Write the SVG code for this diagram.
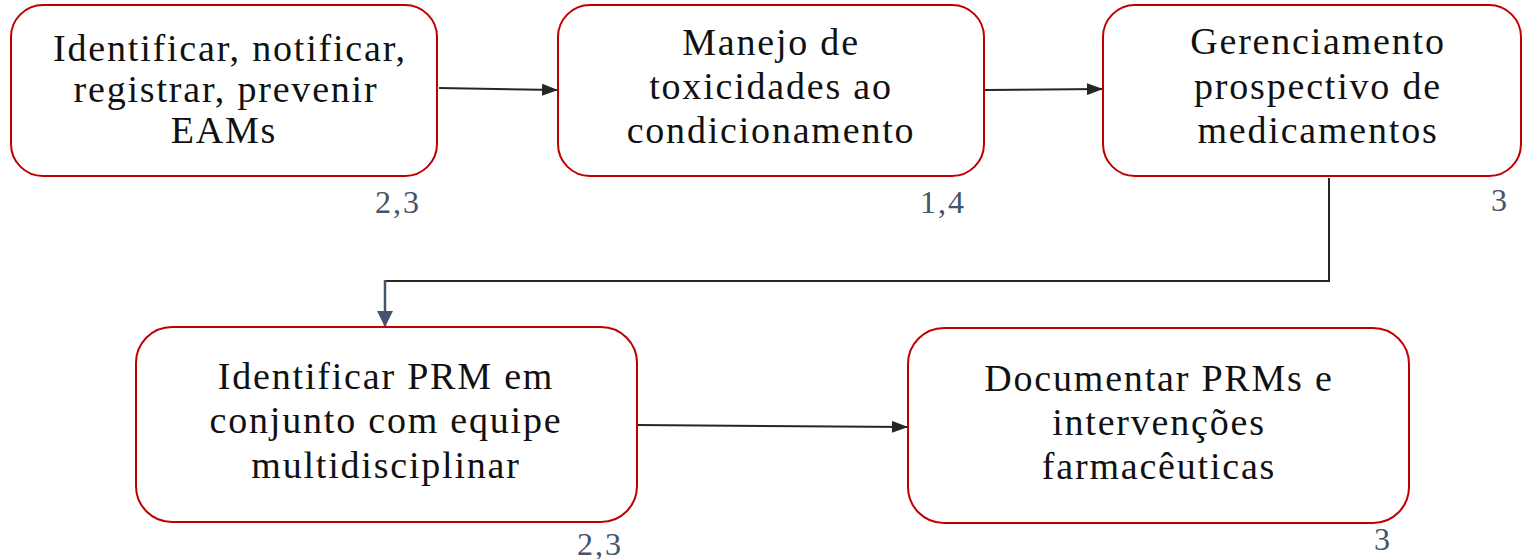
<svg xmlns="http://www.w3.org/2000/svg" width="1522" height="559" viewBox="0 0 1522 559">
<style>
.box{fill:#ffffff;stroke:#c00000;stroke-width:2}
.t{font-family:"Liberation Serif","DejaVu Serif",serif;font-size:38px;fill:#111111;text-anchor:middle;letter-spacing:1.8px}
.n{font-family:"Liberation Serif","DejaVu Serif",serif;font-size:32px;fill:#44546a;letter-spacing:2px}
.c{fill:none;stroke:#262626;stroke-width:2}
</style>
<defs>
<marker id="ah" markerWidth="16" markerHeight="12" refX="15" refY="6" orient="auto" markerUnits="userSpaceOnUse">
<path d="M0,0 L16,6 L0,12 Z" fill="#262626"/>
</marker>
<marker id="ahb" markerWidth="16" markerHeight="16" refX="15" refY="8" orient="auto" markerUnits="userSpaceOnUse">
<path d="M0,0 L16,8 L0,16 Z" fill="#44546a"/>
</marker>
</defs>
<rect width="1522" height="559" fill="#ffffff"/>
<g id="connectors">
<line class="c" x1="439" y1="88" x2="557" y2="90" marker-end="url(#ah)"/>
<line class="c" x1="985" y1="90" x2="1102" y2="89" marker-end="url(#ah)"/>
<polyline class="c" points="1329,178 1329,281 385,281"/>
<line x1="385" y1="280" x2="385" y2="326" stroke="#44546a" stroke-width="2.5" marker-end="url(#ahb)"/>
<line class="c" x1="637" y1="425" x2="907" y2="427" marker-end="url(#ah)"/>
</g>
<g id="node1">
<rect class="box" x="11" y="5" width="426" height="171" rx="32"/>
<text class="t" x="230" y="61">Identificar, notificar,</text>
<text class="t" x="226" y="102">registrar, prevenir</text>
<text class="t" x="224" y="143">EAMs</text>
<text class="n" x="375" y="213">2,3</text>
</g>
<g id="node2">
<rect class="box" x="558" y="5" width="426" height="171" rx="32"/>
<text class="t" x="771" y="55">Manejo de</text>
<text class="t" x="771" y="99">toxicidades ao</text>
<text class="t" x="771" y="143">condicionamento</text>
<text class="n" x="920" y="213">1,4</text>
</g>
<g id="node3">
<rect class="box" x="1103" y="5" width="418" height="171" rx="32"/>
<text class="t" x="1318" y="54">Gerenciamento</text>
<text class="t" x="1318" y="99">prospectivo de</text>
<text class="t" x="1318" y="143">medicamentos</text>
<text class="n" x="1491" y="211">3</text>
</g>
<g id="node4">
<rect class="box" x="136" y="327" width="501" height="195" rx="36"/>
<text class="t" x="386" y="389">Identificar PRM em</text>
<text class="t" x="386" y="433">conjunto com equipe</text>
<text class="t" x="386" y="478">multidisciplinar</text>
<text class="n" x="577" y="555">2,3</text>
</g>
<g id="node5">
<rect class="box" x="908" y="328" width="501" height="195" rx="36"/>
<text class="t" x="1159" y="391">Documentar PRMs e</text>
<text class="t" x="1159" y="435">intervenções</text>
<text class="t" x="1159" y="479">farmacêuticas</text>
<text class="n" x="1374" y="550">3</text>
</g>
</svg>
